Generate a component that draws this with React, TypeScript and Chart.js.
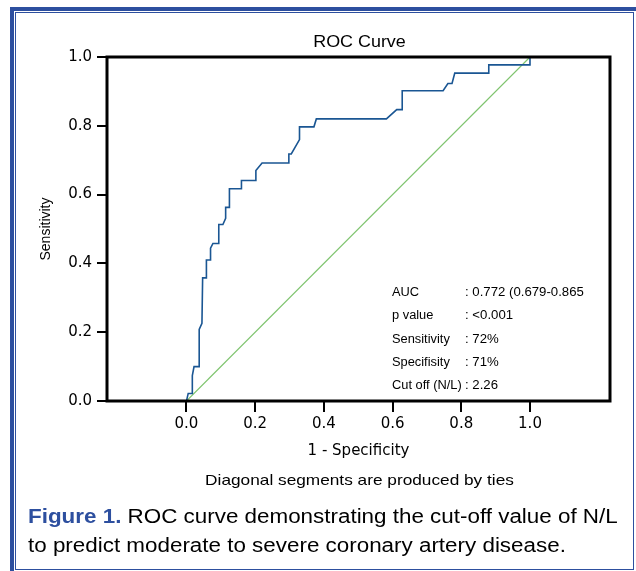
import React, { useEffect, useRef } from 'react';
import { Chart, registerables } from 'chart.js';

Chart.register(...registerables);

// ---------- data ----------
const fprValues = [0, 0.005, 0.017, 0.017, 0.022, 0.037, 0.037, 0.045, 0.047, 0.058, 0.058, 0.070, 0.070, 0.077, 0.094, 0.094, 0.106, 0.114, 0.114, 0.125, 0.125, 0.160, 0.160, 0.202, 0.202, 0.220, 0.298, 0.298, 0.305, 0.329, 0.329, 0.371, 0.378, 0.582, 0.612, 0.628, 0.628, 0.747, 0.761, 0.773, 0.781, 0.880, 0.880, 1.0, 1.0];
const tprValues = [0, 0.022, 0.022, 0.074, 0.100, 0.100, 0.208, 0.226, 0.358, 0.358, 0.410, 0.410, 0.444, 0.458, 0.458, 0.513, 0.513, 0.531, 0.563, 0.563, 0.617, 0.617, 0.641, 0.641, 0.670, 0.692, 0.692, 0.718, 0.718, 0.760, 0.797, 0.797, 0.820, 0.820, 0.847, 0.847, 0.902, 0.902, 0.923, 0.923, 0.953, 0.953, 0.977, 0.977, 1.0];
const diagonalX = [0, 1];
const diagonalY = [0, 1];
const xTickValues = [0, 0.2, 0.4, 0.6, 0.8, 1.0];
const yTickValues = [0, 0.2, 0.4, 0.6, 0.8, 1.0];
const statLabels = ['AUC', 'p value', 'Sensitivity', 'Specifisity', 'Cut off (N/L)'];
const statValues = [': 0.772 (0.679-0.865', ': <0.001', ': 72%', ': 71%', ': 2.26'];
const chartTitle = 'ROC Curve';
const xTitle = '1 - Specificity';
const yTitle = 'Sensitivity';
const footnote = 'Diagonal segments are produced by ties';

const TICK_FONT = "'DejaVu Sans', sans-serif";
const HELV = "'Liberation Sans', Arial, Helvetica, sans-serif";
const SX = 1.12;

function stretchText(ctx: CanvasRenderingContext2D, text: string, x: number, y: number, align: 'left' | 'center', font: string, sx: number = SX) {
  ctx.save();
  ctx.font = font;
  ctx.textAlign = 'left';
  ctx.textBaseline = 'middle';
  const w = ctx.measureText(text).width * sx;
  const x0 = align === 'center' ? x - w / 2 : x;
  ctx.translate(x0, y);
  ctx.scale(sx, 1);
  ctx.fillStyle = '#000';
  ctx.fillText(text, 0, 0);
  ctx.restore();
}

const framePlugin = {
  id: 'rocFrame',
  afterDraw(chart: any) {
    const ctx: CanvasRenderingContext2D = chart.ctx;
    const { left, right, top, bottom } = chart.chartArea;
    ctx.save();
    ctx.strokeStyle = '#000';
    ctx.lineWidth = 3;
    ctx.strokeRect(left, top, right - left, bottom - top);
    ctx.restore();

    const cx = (left + right) / 2;
    stretchText(ctx, chartTitle, cx + 1, 43, 'center', `16px ${HELV}`);
    stretchText(ctx, footnote, cx + 1, 481, 'center', `15px ${HELV}`, 1.15);

    const rowY = [293, 316, 340, 363, 386];
    statLabels.forEach((t, i) => stretchText(ctx, t, 392, rowY[i], 'left', `12px ${HELV}`, 1.07));
    statValues.forEach((t, i) => stretchText(ctx, t, 465, rowY[i], 'left', `12px ${HELV}`, 1.1));
  },
};

export default function App() {
  const ref = useRef<HTMLCanvasElement>(null);

  useEffect(() => {
    const canvas = ref.current;
    if (!canvas) return;
    const chart = new Chart(canvas, {
      type: 'scatter',
      data: {
        datasets: [
          {
            label: 'Reference line',
            data: diagonalX.map((x, i) => ({ x, y: diagonalY[i] })),
            showLine: true,
            borderColor: '#7fc46f',
            borderWidth: 1.2,
            pointRadius: 0,
            order: 2,
          },
          {
            label: 'ROC',
            data: fprValues.map((x, i) => ({ x, y: tprValues[i] })),
            showLine: true,
            borderColor: '#1a5693',
            borderWidth: 1.6,
            pointRadius: 0,
            order: 1,
          },
        ],
      },
      options: {
        responsive: false,
        animation: false,
        events: [],
        layout: { padding: { left: 0, top: 57, right: 26, bottom: 111 } },
        plugins: {
          legend: { display: false },
          tooltip: { enabled: false },
          title: { display: false },
        },
        scales: {
          x: {
            type: 'linear',
            min: -0.2314,
            max: 1.2329,
            afterBuildTicks: (s: any) => {
              s.ticks = xTickValues.map((v) => ({ value: v }));
            },
            afterFit: (s: any) => {
              s.height = 59;
            },
            ticks: {
              autoSkip: false,
              maxRotation: 0,
              padding: 3,
              color: '#000',
              font: { family: TICK_FONT, size: 15 },
              callback: (v: any) => Number(v).toFixed(1),
            },
            grid: {
              display: true,
              drawOnChartArea: false,
              drawTicks: true,
              tickLength: 11,
              color: '#000',
              lineWidth: 2,
            },
            border: { display: false },
            title: {
              display: true,
              text: xTitle,
              color: '#000',
              font: { family: TICK_FONT, size: 15 },
              padding: { top: 0, bottom: 0 },
            },
          },
          y: {
            type: 'linear',
            min: 0,
            max: 1,
            afterBuildTicks: (s: any) => {
              s.ticks = yTickValues.map((v) => ({ value: v }));
            },
            afterFit: (s: any) => {
              s.width = 107;
            },
            ticks: {
              padding: 5,
              color: '#000',
              font: { family: TICK_FONT, size: 15 },
              callback: (v: any) => Number(v).toFixed(1),
            },
            grid: {
              display: true,
              drawOnChartArea: false,
              drawTicks: true,
              tickLength: 10,
              color: '#000',
              lineWidth: 2,
            },
            border: { display: false },
            title: {
              display: true,
              text: yTitle,
              color: '#000',
              font: { family: HELV, size: 14 },
              padding: { top: 38, bottom: 0 },
            },
          },
        },
      },
      plugins: [framePlugin],
    } as any);
    return () => chart.destroy();
  }, []);

  return (
    <div
      style={{
        position: 'fixed',
        left: 0,
        top: 0,
        width: 636,
        height: 571,
        overflow: 'hidden',
        background: '#fff',
      }}
    >
      <div
        style={{
          position: 'absolute',
          left: 10,
          top: 7,
          width: 700,
          height: 700,
          borderLeft: '4px solid #2d4f9f',
          borderTop: '4px solid #2d4f9f',
        }}
      />
      <div
        style={{
          position: 'absolute',
          left: 15,
          top: 12,
          width: 617,
          height: 556,
          border: '1px solid #2d4f9f',
        }}
      />
      <canvas
        ref={ref}
        width={636}
        height={571}
        style={{ position: 'absolute', left: 0, top: 0, width: 636, height: 571 }}
      />
      <div
        style={{
          position: 'absolute',
          left: 28,
          top: 502,
          width: 540,
          fontFamily: HELV,
          fontSize: 20,
          lineHeight: '29px',
          color: '#000',
          transform: `scaleX(${SX})`,
          transformOrigin: 'left top',
          whiteSpace: 'nowrap',
        }}
      >
        <div>
          <span style={{ fontWeight: 'bold', color: '#2d4f9f' }}>Figure 1.</span> ROC curve demonstrating the cut-off value of N/L
        </div>
        <div>to predict moderate to severe coronary artery disease.</div>
      </div>
    </div>
  );
}
